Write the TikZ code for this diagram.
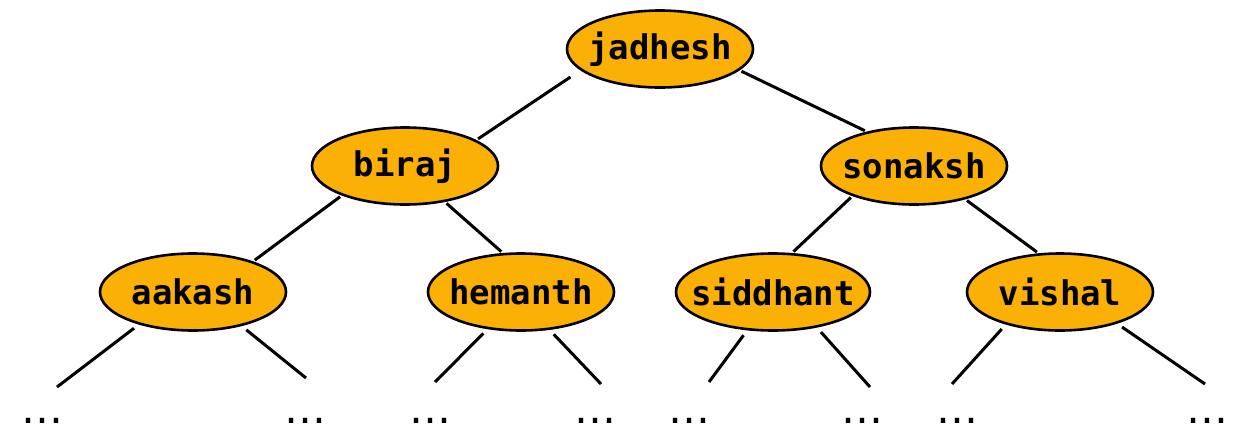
\documentclass[tikz,border=0pt]{standalone}
\usepackage{fontspec}
\newfontfamily\treefont{DejaVu Sans Mono}
\newfontfamily\dotsfont{DejaVu Sans}
\usetikzlibrary{shapes.geometric}
\usetikzlibrary{positioning}
\definecolor{nodeorange}{RGB}{250,176,5}
\newcommand{\tname}[1]{\makebox[0pt]{#1}}
\begin{document}
\begin{tikzpicture}
    [   x = 1pt, y = -1pt
    ,   person/.style = {ellipse, draw = black, line width = 2.6pt, fill = nodeorange,
                         minimum width = 186pt, minimum height = 77pt, inner sep = 0pt,
                         font = \treefont\bfseries\fontsize{34}{34}\selectfont}
    ,   branch/.style = {line width = 3pt, shorten <= 2pt, shorten >= 2pt}
    ,   more/.style = {inner sep = 0pt, font = \dotsfont\fontsize{42}{42}\selectfont}
    ]
    \useasboundingbox (0,0) rectangle (1247,442);

    % root and first level
    \node[person] (jadhesh) at (660,49) {\tname{jadhesh}};
    \node[person] (biraj) at (405,166) {\tname{biraj}};
    \node[person] (sonaksh) at (914,166) {\tname{sonaksh}};

    % second level
    \node[person] (aakash) at (193,292) {\tname{aakash}};
    \node[person] (hemanth) at (521,292) {\tname{hemanth}};
    \node[person, minimum width = 194pt] (siddhant) at (773,292) {\tname{siddhant}};
    \node[person] (vishal) at (1060,292) {\tname{vishal}};

    \draw[branch, shorten <= 12pt] (jadhesh.195) -- (biraj.20);
    \draw[branch] (jadhesh.345) -- (sonaksh.144);
    \draw[branch] (biraj.205) -- (aakash.27);
    \draw[branch] (biraj.318) -- (hemanth.115);
    \draw[branch] (sonaksh.206) -- (siddhant.64);
    \draw[branch] (sonaksh.327) -- (vishal.119);

    % subtrees left out
    \foreach\p/\a/\n/\x/\ex/\ey in {aakash/211/A/42/57/387,aakash/325/B/305/306/378,
                                    hemanth/228/C/430/435/382,hemanth/307/D/595/601/384,
                                    siddhant/236/E/689/709/382,siddhant/321/F/862/870/387,
                                    vishal/211/G/957/952/384,vishal/331/H/1207/1205/384}
    {
        \node[more] (more\n) at (\x,421) {…};
        \coordinate (end\n) at (\ex,\ey);
        \draw[branch, shorten <= 6pt, shorten >= 0pt] (\p.\a) -- (end\n);
    }
\end{tikzpicture}
\end{document}
